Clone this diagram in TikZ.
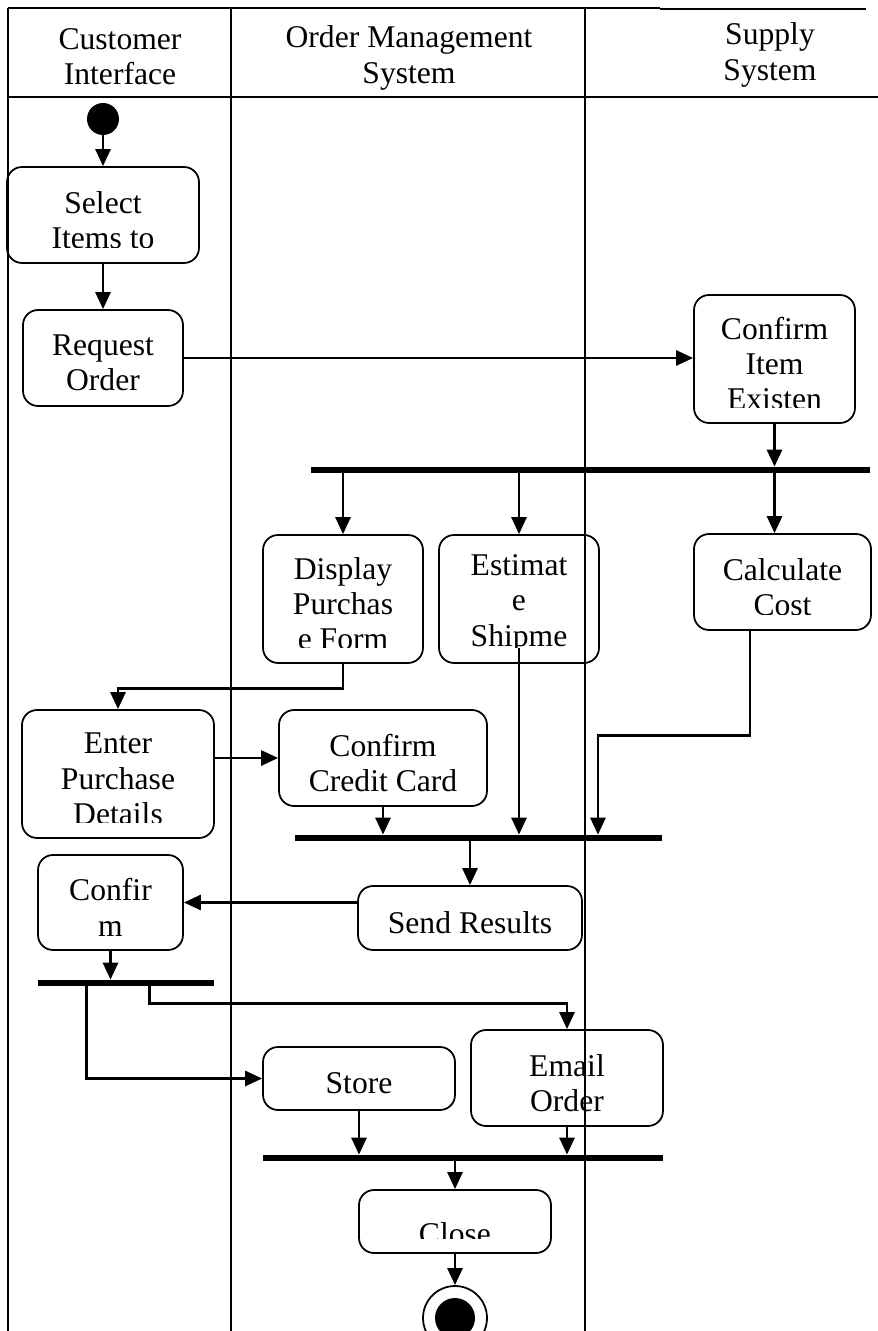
\documentclass[tikz,border=0pt]{standalone}
\usepackage{fontspec}
\setmainfont{Liberation Serif}
\usepackage{tikz}
\usetikzlibrary{calc,arrows.meta}
\def\cutgap{0.3cm}
\tikzset{
  lane/.style={draw=black, line width=0.8pt},
  act/.style={draw=black, line width=1pt, rounded corners=0.3cm, inner sep=0pt},
  lab/.style={font=\fontsize{18}{20}\selectfont, align=center, inner sep=0pt, draw=none, fill=none},
  gap/.code={\def\cutgap{#1}},
  txtat/.style 2 args={path picture={
      \clip (path picture bounding box.north west) rectangle ([yshift=\cutgap]path picture bounding box.south east);
      \node[lab, anchor=north] at ([yshift=-#1]path picture bounding box.north) {#2};}},
  txt/.style={txtat={0.08cm}{#1}},
  bar/.style={fill=black, inner sep=0pt, minimum height=0.12cm},
  flow/.style={draw=black, line width=1.6pt, -{Triangle[length=0.34cm, width=0.3cm]}},
  start/.style={circle, fill=black, inner sep=0pt, minimum size=0.64cm},
  stop/.style={circle, draw=black, line width=1pt, inner sep=0pt, minimum size=1.28cm},
}

\begin{document}
\begin{tikzpicture}[x=0.02cm, y=-0.02cm]
  \useasboundingbox (0,0) rectangle (878,1331);
  % swim lanes
  \draw[lane, line width=1.2pt] (8,8) -- (660,8);
  \draw[lane, line width=0.6pt] (660,9) -- (866,9);
  \draw[lane] (8,8) -- (8,1331);
  \draw[lane] (231,8) -- (231,1331);
  \draw[lane] (585,8) -- (585,1331);
  \draw[lane] (8,97) -- (878,97);
  \node[lab] (hcust) at (120,57) {Customer\\Interface};
  \node[lab] (horder) at (409,58) {Order Management\\System};
  \node[lab] (hsup) at (770,55) {Supply\\System};

  % activities
  \node[start] (st) at (103,119) {};
  \node[act, minimum width=3.84cm, minimum height=1.92cm, txt={Select\\Items to}] (sel) at (103,215) {};
  \node[act, minimum width=3.2cm, minimum height=1.92cm, txt={Request\\Order}] (req) at (103,358) {};
  \node[act, minimum width=3.22cm, minimum height=2.56cm, txt={Confirm\\Item\\Existen}] (cie) at (774.5,359) {};
  \node[bar, minimum width=11.18cm] (f1) at (590.5,470) {};
  \node[act, minimum width=3.2cm, minimum height=2.56cm, txt={Display\\Purchas\\e Form}] (disp) at (343,599) {};
  \node[act, minimum width=3.2cm, minimum height=2.56cm, txt={Estimat\\e\\Shipme}] (est) at (519,599) {};
  \node[act, minimum width=3.54cm, minimum height=1.92cm, txt={Calculate\\Cost}] (calc) at (782.5,582) {};
  \node[act, minimum width=3.84cm, minimum height=2.56cm, txt={Enter\\Purchase\\Details}] (ent) at (118,774) {};
  \node[act, minimum width=4.16cm, minimum height=1.92cm, txt={Confirm\\Credit Card}] (ccc) at (383,758) {};
  \node[bar, minimum width=7.34cm] (j1) at (478.5,838) {};
  \node[act, minimum width=4.48cm, minimum height=1.28cm, txt={Send Results}] (sr) at (470,918) {};
  \node[act, minimum width=2.9cm, minimum height=1.9cm, txt={Confir\\m}] (cf) at (110.5,902.5) {};
  \node[bar, minimum width=3.52cm] (f2) at (126,983) {};
  \node[act, minimum width=3.84cm, minimum height=1.26cm, txt={Store}] (store) at (359,1078.5) {};
  \node[act, minimum width=3.84cm, minimum height=1.92cm, txt={Email\\Order}] (email) at (567,1078) {};
  \node[bar, minimum width=8cm] (j2) at (463,1158) {};
  \node[act, minimum width=3.84cm, minimum height=1.26cm, txtat={0.22cm}{Close}] (close) at (455,1221.5) {};
  \node[stop] (fin) at (455,1318) {};
  \fill (fin.center) circle (0.4cm);

  % flows
  \draw[flow] (st) -- (sel);
  \draw[flow] (sel) -- (req);
  \draw[flow] (req.east) -- (req.east -| cie.west);
  \draw[flow] (cie.south) -- (cie.south |- f1.north);
  \draw[flow] (disp.north |- f1.south) -- (disp.north);
  \draw[flow] (est.north |- f1.south) -- (est.north);
  \draw[flow] (cie.south |- f1.south) -- (cie.south |- calc.north);
  \draw[flow] (disp.south) -- ++(0,25) -| (ent.north);
  \draw[flow] (ent.east |- ccc.west) -- (ccc.west);
  \draw[flow] (ccc.south) -- (ccc.south |- j1.north);
  \draw[flow] ([yshift=0.32cm]est.south) coordinate (e1) -- (e1 |- j1.north);
  \draw[flow] ([xshift=-0.65cm]calc.south) -- ++(0,105) -| ([xshift=2.39cm]j1.north);
  \draw[flow] (sr.north |- j1.south) -- (sr.north);
  \draw[flow] (cf.east -| sr.west) -- (cf.east);
  \draw[flow] (cf.south) -- (cf.south |- f2.north);
  \draw[flow] ([xshift=0.98cm]f2.south west) |- (store.west);
  \draw[flow] ([xshift=2.24cm]f2.south west) -- ++(0,17) -| (email.north);
  \draw[flow] (store.south) -- (store.south |- j2.north);
  \draw[flow] (email.south) -- (email.south |- j2.north);
  \draw[flow] (close.north |- j2.south) -- (close.north);
  \draw[flow] (close.south) -- (fin.north);
\end{tikzpicture}
\end{document}
